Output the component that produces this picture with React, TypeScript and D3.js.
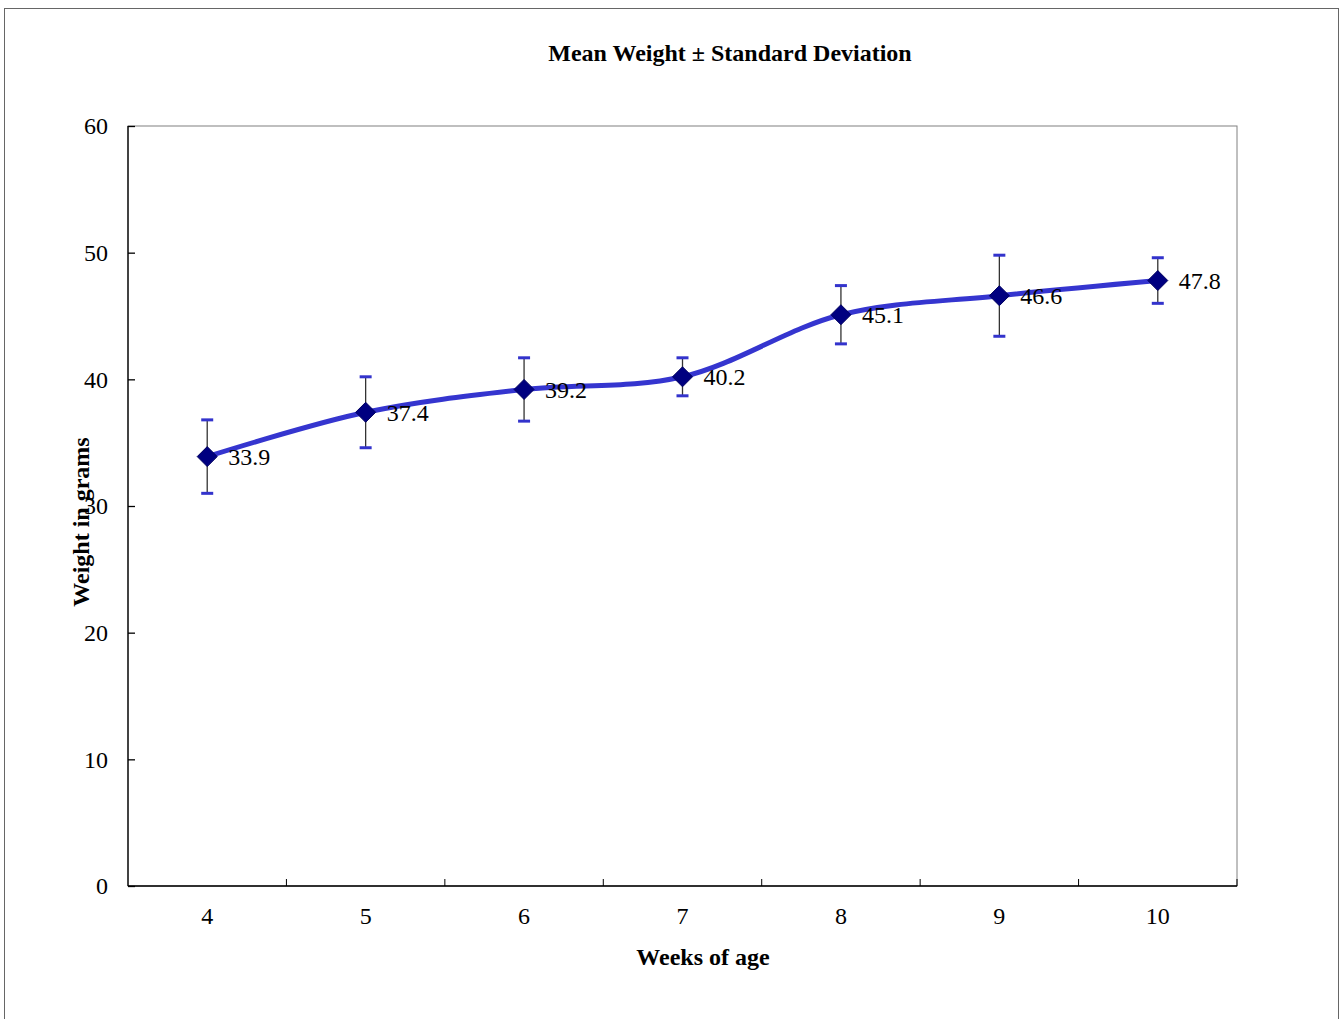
import { useEffect, useRef } from "react";
import * as d3 from "d3";

const weeks = ["4", "5", "6", "7", "8", "9", "10"];
const meanWeight = [33.9, 37.4, 39.2, 40.2, 45.1, 46.6, 47.8];
const stdDev = [2.9, 2.8, 2.5, 1.5, 2.3, 3.2, 1.8];
const yTicks = [0, 10, 20, 30, 40, 50, 60];

const W = 1344;
const H = 1019;
const plot = { left: 128, top: 126, right: 1237, bottom: 886 };
const FONT = "'Liberation Serif', 'Times New Roman', serif";
const FS = 24;

export default function App() {
  const svgRef = useRef<SVGSVGElement | null>(null);

  useEffect(() => {
    if (!svgRef.current) return;
    const svg = d3.select(svgRef.current);
    svg.selectAll("*").remove();

    const x = d3
      .scaleBand<string>()
      .domain(weeks)
      .range([plot.left, plot.right])
      .paddingInner(0)
      .paddingOuter(0);
    const y = d3.scaleLinear().domain([0, 60]).range([plot.bottom, plot.top]);
    const cx = (w: string) => (x(w) ?? 0) + x.bandwidth() / 2;

    const rows = weeks.map((w, i) => ({ w, m: meanWeight[i], sd: stdDev[i] }));

    // outer chart border
    svg
      .append("rect")
      .attr("x", 4.5)
      .attr("y", 8.5)
      .attr("width", 1334)
      .attr("height", 1030)
      .attr("fill", "white")
      .attr("stroke", "#666")
      .attr("stroke-width", 1);

    // plot frame
    svg
      .append("rect")
      .attr("x", plot.left)
      .attr("y", plot.top)
      .attr("width", plot.right - plot.left)
      .attr("height", plot.bottom - plot.top)
      .attr("fill", "white")
      .attr("stroke", "#808080")
      .attr("stroke-width", 1);

    // y axis
    const yAxis = svg
      .append("g")
      .attr("transform", `translate(${plot.left},0)`)
      .call(d3.axisRight(y).tickValues(yTicks).tickSize(7).tickFormat(() => ""));
    yAxis.selectAll("line,path").attr("stroke", "#000").attr("stroke-width", 1.3);
    yAxis.select("path").attr("d", `M0,${plot.top}V${plot.bottom}`);

    svg
      .append("g")
      .selectAll("text")
      .data(yTicks)
      .join("text")
      .attr("x", plot.left - 20)
      .attr("y", (d) => y(d))
      .attr("dy", "0.35em")
      .attr("text-anchor", "end")
      .attr("font-family", FONT)
      .attr("font-size", FS)
      .text((d) => d);

    // x axis
    const boundaries = weeks.slice(1).map((w) => x(w) ?? 0);
    const xAxis = svg.append("g");
    xAxis
      .append("line")
      .attr("x1", plot.left)
      .attr("x2", plot.right)
      .attr("y1", plot.bottom)
      .attr("y2", plot.bottom)
      .attr("stroke", "#000")
      .attr("stroke-width", 1.3);
    xAxis
      .selectAll("line.tick")
      .data([...boundaries, plot.right])
      .join("line")
      .attr("class", "tick")
      .attr("x1", (d) => d)
      .attr("x2", (d) => d)
      .attr("y1", plot.bottom)
      .attr("y2", plot.bottom - 7)
      .attr("stroke", "#000")
      .attr("stroke-width", 1);
    xAxis
      .selectAll("text")
      .data(weeks)
      .join("text")
      .attr("x", (d) => cx(d))
      .attr("y", plot.bottom + 30)
      .attr("dy", "0.35em")
      .attr("text-anchor", "middle")
      .attr("font-family", FONT)
      .attr("font-size", FS)
      .text((d) => d);

    // titles
    svg
      .append("text")
      .attr("x", 730)
      .attr("y", 61)
      .attr("text-anchor", "middle")
      .attr("font-family", FONT)
      .attr("font-weight", "bold")
      .attr("font-size", FS)
      .text("Mean Weight ± Standard Deviation");
    svg
      .append("text")
      .attr("x", 703)
      .attr("y", 965)
      .attr("text-anchor", "middle")
      .attr("font-family", FONT)
      .attr("font-weight", "bold")
      .attr("font-size", FS)
      .text("Weeks of age");
    svg
      .append("text")
      .attr("transform", `translate(89,522) rotate(-90)`)
      .attr("text-anchor", "middle")
      .attr("font-family", FONT)
      .attr("font-weight", "bold")
      .attr("font-size", FS)
      .text("Weight in grams");

    // error bars
    const err = svg.append("g");
    err
      .selectAll("line.stem")
      .data(rows)
      .join("line")
      .attr("class", "stem")
      .attr("x1", (d) => cx(d.w))
      .attr("x2", (d) => cx(d.w))
      .attr("y1", (d) => y(d.m + d.sd))
      .attr("y2", (d) => y(d.m - d.sd))
      .attr("stroke", "#333")
      .attr("stroke-width", 1.3);
    for (const sign of [1, -1]) {
      err
        .selectAll(`line.cap${sign}`)
        .data(rows)
        .join("line")
        .attr("class", `cap${sign}`)
        .attr("x1", (d) => cx(d.w) - 6)
        .attr("x2", (d) => cx(d.w) + 6)
        .attr("y1", (d) => y(d.m + sign * d.sd))
        .attr("y2", (d) => y(d.m + sign * d.sd))
        .attr("stroke", "#3333cc")
        .attr("stroke-width", 3);
    }

    // smoothed line
    const line = d3
      .line<(typeof rows)[number]>()
      .x((d) => cx(d.w))
      .y((d) => y(d.m))
      .curve(d3.curveCatmullRom.alpha(0.5));
    svg
      .append("path")
      .datum(rows)
      .attr("d", line)
      .attr("fill", "none")
      .attr("stroke", "#3535cf")
      .attr("stroke-width", 5)
      .attr("stroke-linecap", "round")
      .attr("stroke-linejoin", "round");

    // diamond markers
    svg
      .append("g")
      .selectAll("path")
      .data(rows)
      .join("path")
      .attr("transform", (d) => `translate(${cx(d.w)},${y(d.m)})`)
      .attr("d", "M0,-10L10,0L0,10L-10,0Z")
      .attr("fill", "#000080")
      .attr("stroke", "#000060")
      .attr("stroke-width", 1);

    // data labels
    svg
      .append("g")
      .selectAll("text")
      .data(rows)
      .join("text")
      .attr("x", (d) => cx(d.w) + 21)
      .attr("y", (d) => y(d.m))
      .attr("dy", "0.35em")
      .attr("font-family", FONT)
      .attr("font-size", FS)
      .text((d) => d.m.toFixed(1));
  }, []);

  return (
    <svg
      ref={svgRef}
      width={W}
      height={H}
      style={{ position: "absolute", left: 0, top: 0, background: "white" }}
    />
  );
}
